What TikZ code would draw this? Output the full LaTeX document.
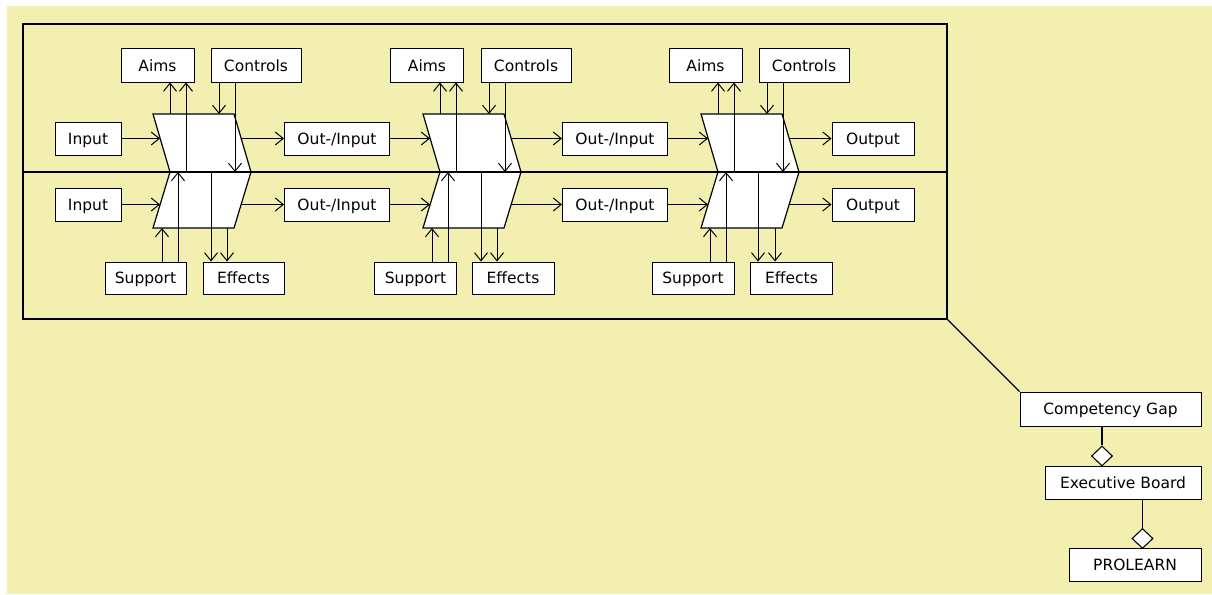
\documentclass[tikz,border=0pt]{standalone}
\usepackage{fontspec}
\setmainfont{DejaVu Sans}
\usetikzlibrary{arrows.meta,shapes.geometric,calc}
\definecolor{paper}{RGB}{242,239,176}
\begin{document}
\begin{tikzpicture}[x=1pt,y=-1pt,font=\fontsize{15.5}{18}\selectfont,
          box/.style={draw, fill=white, line width=1pt, minimum height=33pt, inner sep=0pt, text height=13pt, text depth=2pt},
          proc/.style={draw, fill=white, line width=1.2pt, line join=miter},
          arr/.style={line width=1pt, -{Straight Barb[length=8pt,width=13pt,line width=1pt]}},
          link/.style={line width=1.1pt},
          gem/.style={diamond, draw, fill=white, line width=1.1pt, minimum width=21pt, minimum height=20pt, inner sep=0pt}]
        \useasboundingbox (0,0) rectangle (1212,594);
        \fill[white] (0,0) rectangle (1212,594);
        \fill[paper] (7,6) rectangle (1212,594);
        \node[draw, line width=1.7pt, minimum width=924pt, minimum height=295pt, inner sep=0pt, anchor=north west] (frame) at (22,23) {};
        % boxes above and below
        \node[box, minimum width=73pt] (aims1) at (157.5,65.5) {Aims}; \node[box, minimum width=90pt] (ctl1) at (256,65.5) {Controls};
        \node[box, minimum width=73pt] (aims2) at (427,65.5) {Aims};   \node[box, minimum width=90pt] (ctl2) at (526,65.5) {Controls};
        \node[box, minimum width=73pt] (aims3) at (705.5,65.5) {Aims}; \node[box, minimum width=90pt] (ctl3) at (804,65.5) {Controls};
        \node[box, minimum width=81pt, minimum height=32pt] (sup1) at (145.5,278) {Support}; \node[box, minimum width=81pt, minimum height=32pt] (eff1) at (243.5,278) {Effects};
        \node[box, minimum width=82pt, minimum height=32pt] (sup2) at (415.5,278) {Support}; \node[box, minimum width=82pt, minimum height=32pt] (eff2) at (513,278) {Effects};
        \node[box, minimum width=82pt, minimum height=32pt] (sup3) at (693,278) {Support};   \node[box, minimum width=82pt, minimum height=32pt] (eff3) at (791.5,278) {Effects};
        % boxes in the two rows
        \node[box, minimum width=66pt] (tin) at (88,138.5) {Input};        \node[box, minimum width=66pt] (bin) at (88,204.5) {Input};
        \node[box, minimum width=105pt] (tio1) at (337,138.5) {Out-/Input}; \node[box, minimum width=105pt] (bio1) at (337,204.5) {Out-/Input};
        \node[box, minimum width=105pt] (tio2) at (615,138.5) {Out-/Input}; \node[box, minimum width=105pt] (bio2) at (615,204.5) {Out-/Input};
        \node[box, minimum width=82pt] (tout) at (873,138.5) {Output};     \node[box, minimum width=82pt] (bout) at (873,204.5) {Output};
        % the three processes
        \coordinate (p1a) at (153,114); \coordinate (p1b) at (234,114); \coordinate (p1c) at (251,172); \coordinate (p1d) at (170,172); \coordinate (p1e) at (234,228); \coordinate (p1f) at (153,228);
        \coordinate (p2a) at (423,114); \coordinate (p2b) at (504,114); \coordinate (p2c) at (521,172); \coordinate (p2d) at (440,172); \coordinate (p2e) at (504,228); \coordinate (p2f) at (423,228);
        \coordinate (p3a) at (701,114); \coordinate (p3b) at (782,114); \coordinate (p3c) at (799,172); \coordinate (p3d) at (718,172); \coordinate (p3e) at (782,228); \coordinate (p3f) at (701,228);
        \draw[proc] (p1a) -- (p1b) -- (p1c) -- (p1d) -- cycle; \draw[proc] (p1d) -- (p1c) -- (p1e) -- (p1f) -- cycle;
        \draw[proc] (p2a) -- (p2b) -- (p2c) -- (p2d) -- cycle; \draw[proc] (p2d) -- (p2c) -- (p2e) -- (p2f) -- cycle;
        \draw[proc] (p3a) -- (p3b) -- (p3c) -- (p3d) -- cycle; \draw[proc] (p3d) -- (p3c) -- (p3e) -- (p3f) -- cycle;
        \draw[line width=2.4pt] (frame.west |- p1d) -- (frame.east |- p1d);
        % ends of the arrows on the processes
        \coordinate (p1a1) at (170,114); \coordinate (p1a2) at (186,172); \coordinate (p1c1) at (219,114); \coordinate (p1c2) at (235,172);
        \coordinate (p1s1) at (162,228); \coordinate (p1s2) at (178,172); \coordinate (p1e1) at (211,172); \coordinate (p1e2) at (227,228);
        \coordinate (p2a1) at (440,114); \coordinate (p2a2) at (456,172); \coordinate (p2c1) at (489,114); \coordinate (p2c2) at (505,172);
        \coordinate (p2s1) at (432,228); \coordinate (p2s2) at (448,172); \coordinate (p2e1) at (481,172); \coordinate (p2e2) at (497,228);
        \coordinate (p3a1) at (718,114); \coordinate (p3a2) at (734,172); \coordinate (p3c1) at (767,114); \coordinate (p3c2) at (783,172);
        \coordinate (p3s1) at (710,228); \coordinate (p3s2) at (726,172); \coordinate (p3e1) at (758,172); \coordinate (p3e2) at (775,228);
        \coordinate (p1i) at (160,138.5); \coordinate (p1o) at (241,138.5); \coordinate (p1j) at (160,204.5); \coordinate (p1k) at (241,204.5);
        \coordinate (p2i) at (430,138.5); \coordinate (p2o) at (511,138.5); \coordinate (p2j) at (430,204.5); \coordinate (p2k) at (511,204.5);
        \coordinate (p3i) at (708,138.5); \coordinate (p3o) at (789,138.5); \coordinate (p3j) at (708,204.5); \coordinate (p3k) at (789,204.5);
        % aims, controls, support, effects
        \draw[arr] (p1a1) -- (p1a1 |- aims1.south); \draw[arr] (p1a2) -- (p1a2 |- aims1.south);
        \draw[arr] (p1c1 |- ctl1.south) -- (p1c1); \draw[arr] (p1c2 |- ctl1.south) -- (p1c2);
        \draw[arr] (p1s1 |- sup1.north) -- (p1s1); \draw[arr] (p1s2 |- sup1.north) -- (p1s2);
        \draw[arr] (p1e1) -- (p1e1 |- eff1.north); \draw[arr] (p1e2) -- (p1e2 |- eff1.north);
        \draw[arr] (p2a1) -- (p2a1 |- aims2.south); \draw[arr] (p2a2) -- (p2a2 |- aims2.south);
        \draw[arr] (p2c1 |- ctl2.south) -- (p2c1); \draw[arr] (p2c2 |- ctl2.south) -- (p2c2);
        \draw[arr] (p2s1 |- sup2.north) -- (p2s1); \draw[arr] (p2s2 |- sup2.north) -- (p2s2);
        \draw[arr] (p2e1) -- (p2e1 |- eff2.north); \draw[arr] (p2e2) -- (p2e2 |- eff2.north);
        \draw[arr] (p3a1) -- (p3a1 |- aims3.south); \draw[arr] (p3a2) -- (p3a2 |- aims3.south);
        \draw[arr] (p3c1 |- ctl3.south) -- (p3c1); \draw[arr] (p3c2 |- ctl3.south) -- (p3c2);
        \draw[arr] (p3s1 |- sup3.north) -- (p3s1); \draw[arr] (p3s2 |- sup3.north) -- (p3s2);
        \draw[arr] (p3e1) -- (p3e1 |- eff3.north); \draw[arr] (p3e2) -- (p3e2 |- eff3.north);
        % flow along the rows
        \draw[arr] (tin) -- (p1i); \draw[arr] (p1o) -- (tio1); \draw[arr] (tio1) -- (p2i); \draw[arr] (p2o) -- (tio2); \draw[arr] (tio2) -- (p3i); \draw[arr] (p3o) -- (tout);
        \draw[arr] (bin) -- (p1j); \draw[arr] (p1k) -- (bio1); \draw[arr] (bio1) -- (p2j); \draw[arr] (p2k) -- (bio2); \draw[arr] (bio2) -- (p3j); \draw[arr] (p3k) -- (bout);
        % hierarchy
        \node[box, minimum width=181pt, minimum height=34pt] (gap) at (1110.5,409) {Competency Gap};
        \node[box, minimum width=156pt] (exec) at (1123,482.5) {Executive Board};
        \node[box, minimum width=132pt] (prolearn) at (1135,564.5) {PROLEARN};
        \node[gem] (gem1) at (1102,456) {};
        \node[gem] (gem2) at (1142.5,538.5) {};
        \draw[link] (frame.south east) -- (gap.north west);
        \draw[link] (gem1.north |- gap.south) -- (gem1.north);
        \draw[link] (gem2.north |- exec.south) -- (gem2.north);
      \end{tikzpicture}
\end{document}
